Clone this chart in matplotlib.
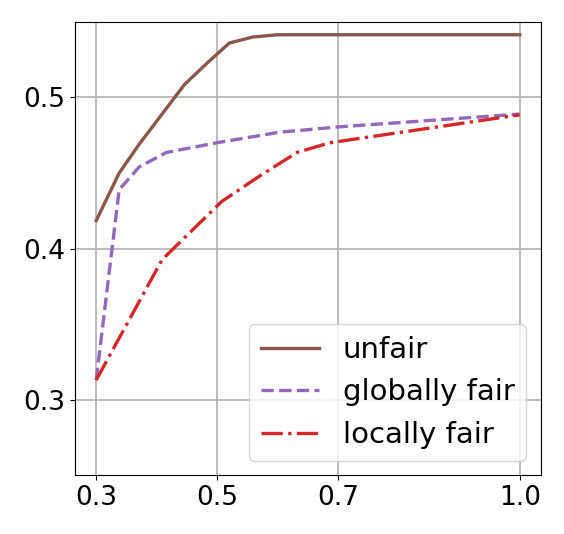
import matplotlib
matplotlib.use("Agg")
import matplotlib.pyplot as plt
import numpy as np

# values
x_unfair = [0.30, 0.338, 0.371, 0.446, 0.484, 0.52, 0.559, 0.60, 0.70, 1.00]
y_unfair = [0.4185, 0.450, 0.469, 0.5086, 0.523, 0.536, 0.540, 0.5415, 0.5415, 0.5415]

x_global = [0.30, 0.338, 0.371, 0.416, 0.499, 0.603, 0.70, 1.00]
y_global = [0.313, 0.439, 0.454, 0.4636, 0.470, 0.477, 0.4805, 0.4890]

x_local = [0.30, 0.409, 0.507, 0.570, 0.632, 0.686, 1.00]
y_local = [0.313, 0.3927, 0.431, 0.448, 0.4636, 0.470, 0.4885]

xticks = [0.3, 0.5, 0.7, 1.0]
yticks = [0.3, 0.4, 0.5]

fig = plt.figure(figsize=(5.64, 5.34), dpi=100)
ax = fig.add_axes([0.133, 0.110, 0.826, 0.849])

ax.plot(x_unfair, y_unfair, color="#8c564b", lw=2.4, ls="-", label="unfair")
ax.plot(x_global, y_global, color="#9467bd", lw=2.4, ls="--", label="globally fair")
ax.plot(x_local, y_local, color="#d62728", lw=2.4, ls="-.", label="locally fair")

ax.set_xlim(0.265, 1.035)
ax.set_ylim(0.25, 0.55)
ax.set_xticks(xticks)
ax.set_xticklabels(["{:.1f}".format(v) for v in xticks])
ax.set_yticks(yticks)
ax.set_yticklabels(["{:.1f}".format(v) for v in yticks])
ax.tick_params(labelsize=19)
ax.grid(True, color="#b0b0b0", lw=1.2)
ax.legend(loc="lower right", fontsize=21)

fig.savefig("out.png", dpi=100)
